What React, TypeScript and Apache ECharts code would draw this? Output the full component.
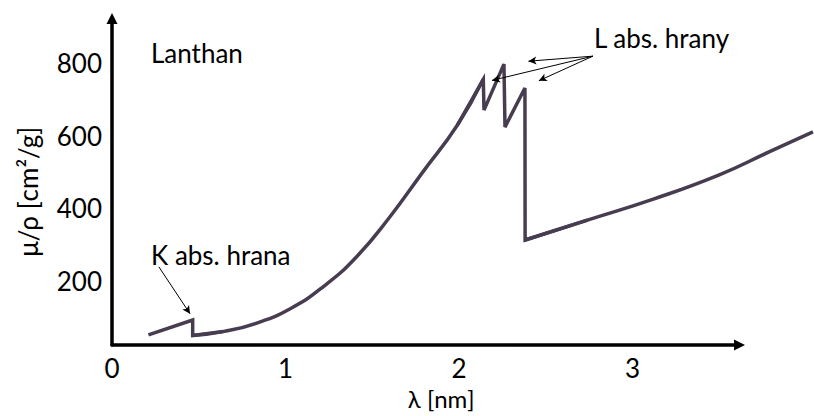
import React, { useEffect, useRef } from "react";
import * as echarts from "echarts";

// Mass attenuation coefficient of lanthanum vs. wavelength
const lambdaNm = [
  0.21, 0.465, 0.465, 0.64, 0.83, 1.03, 1.22, 1.41, 1.6, 1.79, 1.99,
  2.14, 2.144, 2.259, 2.265, 2.38, 2.381, 2.74, 3.12, 3.5, 3.79, 4.04,
];
const muRho = [
  50, 91, 48, 59, 82, 123, 184, 266, 375, 499, 629,
  756, 671, 798, 624, 732, 312, 367, 425, 492, 556, 611,
];
// index ranges of the curve: sharp edges drawn straight, the rest smoothed
const straightRuns: [number, number][] = [[0, 3], [10, 17]];
const smoothRuns: [number, number][] = [[2, 11], [16, 21]];

const xTickLabels = [0, 1, 2, 3];
const yTickLabels = [200, 400, 600, 800];

const xAxisTitle = "λ [nm]";
const yAxisTitle = "μ/ρ [cm²/g]";
const elementLabel = "Lanthan";
const kEdgeLabel = "K abs. hrana";
const lEdgeLabel = "L abs. hrany";

// pointer arrows, [from, to] in (λ, μ/ρ)
const kEdgePointers: [number, number][][] = [[[0.27, 238], [0.45, 108]]];
const lEdgePointers: [number, number][][] = [
  [[2.772, 820], [2.4, 806]],
  [[2.772, 820], [2.19, 753]],
  [[2.772, 820], [2.46, 752]],
];

const FONT = "Lato, 'Open Sans', 'DejaVu Sans', sans-serif";
const FONT_SIZE = 26;
const CURVE = "#483c50";
const Y_MIN = 22;
const Y_MAX = 924;

export default function App() {
  const ref = useRef<HTMLDivElement>(null);

  useEffect(() => {
    if (!ref.current) return;
    const chart = echarts.init(ref.current, undefined, { renderer: "svg" });

    const points = lambdaNm.map((x, i) => [x, muRho[i]]);
    const run = ([a, b]: [number, number]) => points.slice(a, b + 1);

    const lineBase = {
      type: "line" as const,
      xAxisIndex: 1,
      yAxisIndex: 1,
      showSymbol: false,
      symbol: "none",
      silent: true,
      lineStyle: { color: CURVE, width: 3.5, join: "miter" as const },
      emphasis: { disabled: true },
    };

    const pointerData = [...kEdgePointers, ...lEdgePointers].map(([from, to]) => [
      { coord: from },
      { coord: to },
    ]);

    const series: any[] = [
      ...straightRuns.map((r) => ({ ...lineBase, data: run(r) })),
      ...smoothRuns.map((r) => ({ ...lineBase, smooth: 0.5, data: run(r) })),
    ];
    series[series.length - 1].markLine = {
      silent: true,
      animation: false,
      symbol: ["none", "arrow"],
      symbolSize: [6, 8],
      label: { show: false },
      lineStyle: { color: "#000", width: 1, type: "solid" },
      emphasis: { disabled: true },
      data: pointerData,
    };

    const textStyle = { fontFamily: FONT, fontSize: FONT_SIZE, color: "#000" };
    const font = `${FONT_SIZE}px ${FONT}`;

    chart.setOption({
      animation: false,
      grid: [
        { left: 112, top: 18.5, width: 627.5, height: 326.5, outerBoundsMode: "none", containLabel: false },
        { left: 112, top: 18.5, width: 702, height: 326.5, outerBoundsMode: "none", containLabel: false },
      ],
      xAxis: [
        {
          type: "value",
          gridIndex: 0,
          min: 0,
          max: 3.617,
          splitLine: { show: false },
          axisTick: { show: false },
          axisLine: {
            show: true,
            onZero: false,
            symbol: ["none", "triangle"],
            symbolSize: [11, 11],
            lineStyle: { color: "#000", width: 3.5 },
          },
          axisLabel: { customValues: xTickLabels, margin: 10, ...textStyle },
          name: xAxisTitle,
          nameLocation: "middle",
          nameGap: 41,
          nameMoveOverlap: false,
          nameTextStyle: { ...textStyle, fontSize: 24, padding: [0, 0, 0, 31] },
        },
        { type: "value", gridIndex: 1, min: 0, max: 4.046, show: false },
      ],
      yAxis: [
        {
          type: "value",
          gridIndex: 0,
          min: Y_MIN,
          max: Y_MAX,
          splitLine: { show: false },
          axisTick: { show: false },
          axisLine: {
            show: true,
            onZero: false,
            symbol: ["none", "triangle"],
            symbolSize: [11, 11],
            lineStyle: { color: "#000", width: 3.5 },
          },
          axisLabel: { customValues: yTickLabels, margin: 10, ...textStyle },
          name: yAxisTitle,
          nameLocation: "middle",
          nameGap: 71,
          nameMoveOverlap: false,
          nameTextStyle: { ...textStyle, padding: [0, 20, 0, 0] },
        },
        { type: "value", gridIndex: 1, min: Y_MIN, max: Y_MAX, show: false },
      ],
      graphic: [
        {
          type: "text",
          x: 151,
          y: 53,
          style: { text: elementLabel, font, fill: "#000", verticalAlign: "middle" },
        },
        {
          type: "text",
          x: 151,
          y: 255,
          style: { text: kEdgeLabel, font, fill: "#000", verticalAlign: "middle" },
        },
        {
          type: "text",
          x: 594,
          y: 38,
          style: { text: lEdgeLabel, font, fill: "#000", verticalAlign: "middle" },
        },
      ],
      series,
    });

    return () => chart.dispose();
  }, []);

  return (
    <div
      ref={ref}
      style={{ position: "fixed", left: 0, top: 0, width: 814, height: 416, background: "#fff" }}
    />
  );
}
